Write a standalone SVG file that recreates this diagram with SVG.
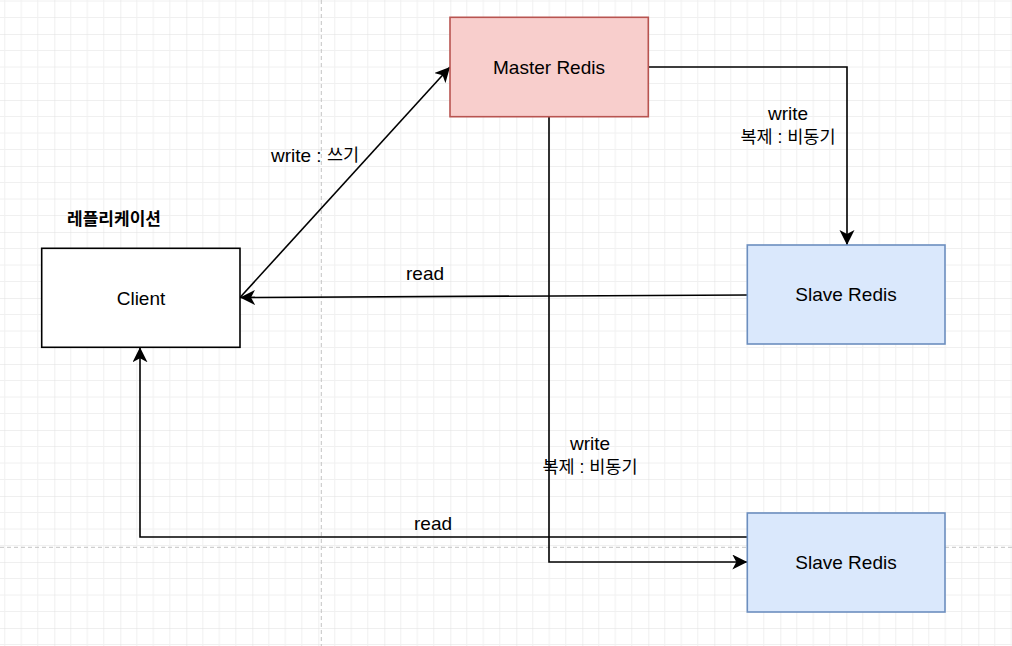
<svg xmlns="http://www.w3.org/2000/svg" width="1012" height="646" viewBox="0 0 1012 646">
<style>
text{font-family:"Liberation Sans",Arial,"Noto Sans CJK KR",sans-serif;fill:#000;text-anchor:middle;dominant-baseline:central}
.n{font-size:19px}
.k{font-size:17.5px}
.edge{fill:none;stroke:#000;stroke-width:1.6}
</style>
<defs>
<pattern id="grid" patternUnits="userSpaceOnUse" x="54.3" y="34" width="66" height="66">
<path d="M16.5 0V66M33 0V66M49.5 0V66M0 16.5H66M0 33H66M0 49.5H66" stroke="#f0f0f0" stroke-width="1"/>
<path d="M0 0V66M0 0H66" stroke="#e0e0e0" stroke-width="1"/>
</pattern>
<marker id="arr" markerUnits="userSpaceOnUse" markerWidth="18" markerHeight="16" refX="15" refY="7.5" orient="auto" viewBox="0 0 18 16">
<path d="M0 0L15 7.5L0 15L4 7.5Z" fill="#000"/>
</marker>
</defs>
<rect width="1012" height="646" fill="#fff"/>
<rect width="1012" height="646" fill="url(#grid)"/>
<path d="M321.3 0V646M0 547.3H1012" stroke="#c4c4c4" stroke-width="1" stroke-dasharray="4 3"/>
<g id="connectors">
<path class="edge" d="M240 297.5L450 67" marker-end="url(#arr)"/>
<path class="edge" d="M747.3 295L240 297.5" marker-end="url(#arr)"/>
<path class="edge" d="M648.3 67H847V245" marker-end="url(#arr)"/>
<path class="edge" d="M549 116.7V562H747.3" marker-end="url(#arr)"/>
<path class="edge" d="M747.3 537H140V347.3" marker-end="url(#arr)"/>
<text x="315" y="155"><tspan class="n">write : </tspan><tspan class="k">쓰기</tspan></text>
<text class="n" x="425" y="273">read</text>
<text class="n" x="788" y="113">write</text>
<text class="k" x="788" y="137">복제 : 비동기</text>
<text class="n" x="590" y="443">write</text>
<text class="k" x="590" y="467">복제 : 비동기</text>
<text class="n" x="433" y="523">read</text>
</g>
<g id="master">
<rect x="450" y="17.3" width="198.3" height="99.4" fill="#f8cecc" stroke="#b85450" stroke-width="1.6"/>
<text class="n" x="549" y="67">Master Redis</text>
</g>
<g id="client">
<rect x="41.7" y="248.3" width="198.3" height="99" fill="#fff" stroke="#000" stroke-width="1.6"/>
<text class="n" x="141" y="298">Client</text>
</g>
<g id="slave1">
<rect x="747.3" y="245" width="197.7" height="99" fill="#dae8fc" stroke="#6c8ebf" stroke-width="1.6"/>
<text class="n" x="846" y="294.5">Slave Redis</text>
</g>
<g id="slave2">
<rect x="747.3" y="513" width="197.7" height="99" fill="#dae8fc" stroke="#6c8ebf" stroke-width="1.6"/>
<text class="n" x="846" y="562.5">Slave Redis</text>
</g>
<g id="title">
<text x="114" y="219" style="font-size:17px;font-weight:bold">레플리케이션</text>
</g>
</svg>
